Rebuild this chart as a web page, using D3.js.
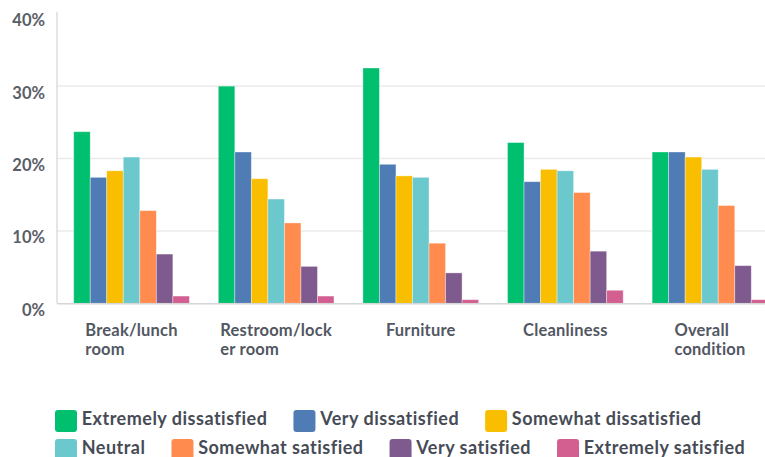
<!DOCTYPE html>
<html>
<head>
<meta charset="utf-8">
<script src="https://cdn.jsdelivr.net/npm/d3@7"></script>
<style>
  html, body { margin: 0; padding: 0; background: #fff; }
  svg { display: block; }
  text { font-family: Lato, "Open Sans", sans-serif; font-weight: 700; }
</style>
</head>
<body>
<svg id="chart" width="765" height="457"></svg>
<script>
// ---- data ----
const categories = ["Break/lunch room", "Restroom/locker room", "Furniture", "Cleanliness", "Overall condition"];
const seriesNames = ["Extremely dissatisfied", "Very dissatisfied", "Somewhat dissatisfied", "Neutral", "Somewhat satisfied", "Very satisfied", "Extremely satisfied"];
const seriesColors = ["#00BF6F", "#507CB6", "#F9BE00", "#6BC8CD", "#FF8B4F", "#7F5A8E", "#D25F90"];
// values in percent, one array per category, in series order
const breakLunch = [23.7, 17.4, 18.3, 20.2, 12.8, 6.8, 1.0];
const restroom   = [30.0, 20.9, 17.2, 14.4, 11.1, 5.1, 1.0];
const furniture  = [32.5, 19.2, 17.6, 17.4, 8.3, 4.2, 0.5];
const cleanliness= [22.2, 16.8, 18.5, 18.3, 15.3, 7.2, 1.8];
const overall    = [20.9, 20.9, 20.2, 18.5, 13.5, 5.2, 0.5];
const yTicks = [0, 10, 20, 30, 40];
const yTickLabels = ["0%", "10%", "20%", "30%", "40%"];

const values = [breakLunch, restroom, furniture, cleanliness, overall];

// ---- layout ----
const svg = d3.select("#chart");
const axisX = 57;
const y = d3.scaleLinear().domain([0, 40]).range([303.3, 13.7]);
const x0 = d3.scaleBand().domain(categories).range([axisX, 784.5]).paddingInner(0.2).paddingOuter(0.1155);
const x1 = d3.scaleBand().domain(seriesNames).range([0, x0.bandwidth()]);

// gridlines
svg.append("g").selectAll("line")
  .data(yTicks.filter(t => t > 0 && t < 40))
  .join("line")
  .attr("x1", axisX).attr("x2", 765)
  .attr("y1", d => y(d)).attr("y2", d => y(d))
  .attr("stroke", "#ebebeb").attr("stroke-width", 1.5);

// y axis line
svg.append("line")
  .attr("x1", axisX).attr("x2", axisX)
  .attr("y1", y(40) - 2).attr("y2", y(0))
  .attr("stroke", "#dcdcdc").attr("stroke-width", 1.5);

// y tick labels
svg.append("g").selectAll("text")
  .data(yTicks)
  .join("text")
  .attr("x", 45).attr("y", d => y(d) + 12.5)
  .attr("text-anchor", "end")
  .attr("font-size", 16.5)
  .attr("fill", "#5a5e66")
  .text((d, i) => yTickLabels[i]);

// bars
const groups = svg.append("g").selectAll("g")
  .data(categories)
  .join("g")
  .attr("transform", d => `translate(${x0(d)},0)`);

groups.selectAll("rect")
  .data((d, i) => values[i].map((v, j) => ({ name: seriesNames[j], v, c: seriesColors[j] })))
  .join("rect")
  .attr("x", d => x1(d.name))
  .attr("width", x1.bandwidth())
  .attr("y", d => y(d.v))
  .attr("height", d => y(0) - y(d.v))
  .attr("fill", d => d.c)
  .attr("stroke", "rgba(255,255,255,0.45)")
  .attr("stroke-width", 0.8);

// baseline
svg.append("line")
  .attr("x1", axisX).attr("x2", 765)
  .attr("y1", y(0) + 0.5).attr("y2", y(0) + 0.5)
  .attr("stroke", "#d6d6d6").attr("stroke-width", 1.5);

// category labels with wrapping (left aligned block, centered on band)
const catFont = 16.5, catSpacing = 0.2;
const measure = svg.append("text").attr("font-size", catFont).attr("letter-spacing", catSpacing).attr("visibility", "hidden");
function width(s) { measure.text(s); return measure.node().getComputedTextLength(); }
function wrap(label, maxW) {
  const words = label.split(" ");
  const lines = [];
  let cur = "";
  for (const w of words) {
    const trial = cur ? cur + " " + w : w;
    if (width(trial) <= maxW) { cur = trial; continue; }
    if (cur) { lines.push(cur); cur = ""; }
    if (width(w) <= maxW) { cur = w; continue; }
    let piece = "";
    for (const ch of w) {
      if (width(piece + ch) <= maxW) piece += ch;
      else { lines.push(piece); piece = ch; }
    }
    cur = piece;
  }
  if (cur) lines.push(cur);
  return lines;
}
const catG = svg.append("g");
categories.forEach(cat => {
  const lines = wrap(cat, x0.bandwidth());
  const maxW = d3.max(lines, width);
  const cx = x0(cat) + x0.bandwidth() / 2;
  const t = catG.append("text")
    .attr("font-size", catFont)
    .attr("letter-spacing", catSpacing)
    .attr("fill", "#525762");
  lines.forEach((l, i) => {
    t.append("tspan").attr("x", cx - maxW / 2).attr("y", 336 + i * 18.5).text(l);
  });
});
measure.remove();

// legend
const legend = svg.append("g");
const rows = [[0, 1, 2], [3, 4, 5, 6]];
rows.forEach((row, r) => {
  let lx = 55;
  const top = 410 + r * 29;
  row.forEach(idx => {
    legend.append("rect")
      .attr("x", lx).attr("y", top)
      .attr("width", 22).attr("height", 22).attr("rx", 3)
      .attr("fill", seriesColors[idx]);
    const tx = legend.append("text")
      .attr("x", lx + 26.7).attr("y", top + 14.5)
      .attr("font-size", 18)
      .attr("letter-spacing", 0.5)
      .attr("fill", "#464b56")
      .text(seriesNames[idx]);
    lx = lx + 26.7 + tx.node().getComputedTextLength() + 26;
  });
});
</script>
</body>
</html>
